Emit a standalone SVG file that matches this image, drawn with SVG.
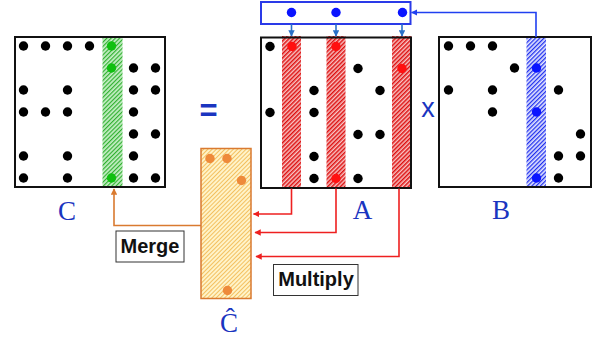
<svg xmlns="http://www.w3.org/2000/svg" width="596" height="339" viewBox="0 0 596 339">
<style>
.mat{fill:none;stroke:#111;stroke-width:2}
circle{r:4.7px}
.d{fill:#000}
.dr{fill:#ff1010}
.dg{fill:#10c010}
.db{fill:#0a14ff}
.do{fill:#ee8a3a}
.lbl{font-family:"Liberation Serif",serif;font-size:27px;fill:#1a35c0;text-anchor:middle}
.op{font-family:"Liberation Sans",Arial,sans-serif;fill:#1a35c0;text-anchor:middle}
.btxt{font-family:"Liberation Sans",Arial,sans-serif;font-weight:bold;font-size:20px;fill:#111;text-anchor:middle}
.tbox{fill:#fff;stroke:#333;stroke-width:1}
.red{fill:none;stroke:#ee2020;stroke-width:1.6}
.blu{fill:none;stroke:#2040f0;stroke-width:1.6}
.sblu{fill:none;stroke:#2a70c8;stroke-width:1.6}
.org{fill:none;stroke:#d97a30;stroke-width:1.6}
</style>
<defs>
<pattern id="hg" patternUnits="userSpaceOnUse" width="3" height="3" patternTransform="rotate(45)">
<rect width="3" height="3" fill="#c6efc6"/><rect width="1.2" height="3" fill="#30b030"/>
</pattern>
<pattern id="hr" patternUnits="userSpaceOnUse" width="3" height="3" patternTransform="rotate(45)">
<rect width="3" height="3" fill="#f8c4c4"/><rect width="1.5" height="3" fill="#dd1010"/>
</pattern>
<pattern id="hb" patternUnits="userSpaceOnUse" width="3" height="3" patternTransform="rotate(45)">
<rect width="3" height="3" fill="#e4e6ff"/><rect width="1.3" height="3" fill="#2030ee"/>
</pattern>
<pattern id="ho" patternUnits="userSpaceOnUse" width="3" height="3" patternTransform="rotate(45)">
<rect width="3" height="3" fill="#fff3c8"/><rect width="1" height="3" fill="#f3c060"/>
</pattern>
<marker id="ar" viewBox="0 0 10 10" refX="9" refY="5" markerWidth="4" markerHeight="4" orient="auto" markerUnits="strokeWidth">
<path d="M0,0 L10,5 L0,10 z" fill="#ee2020"/>
</marker>
<marker id="ab" viewBox="0 0 10 10" refX="9" refY="5" markerWidth="4" markerHeight="4" orient="auto" markerUnits="strokeWidth">
<path d="M0,0 L10,5 L0,10 z" fill="#2040f0"/>
</marker>
<marker id="asb" viewBox="0 0 10 10" refX="9" refY="5" markerWidth="4" markerHeight="4" orient="auto" markerUnits="strokeWidth">
<path d="M0,0 L10,5 L0,10 z" fill="#2a70c8"/>
</marker>
<marker id="ao" viewBox="0 0 10 10" refX="9" refY="5" markerWidth="4" markerHeight="4" orient="auto" markerUnits="strokeWidth">
<path d="M0,0 L10,5 L0,10 z" fill="#d97a30"/>
</marker>
</defs>

<g id="matrix-C">
<rect x="102.5" y="37" width="20" height="150" fill="url(#hg)"/>
<rect class="mat" x="15" y="37" width="150" height="150"/>
<circle class="d" cx="23.5" cy="46" r="4.7"/><circle class="d" cx="45.5" cy="46" r="4.7"/><circle class="d" cx="67.5" cy="46" r="4.7"/><circle class="d" cx="89.5" cy="46" r="4.7"/><circle class="dg" cx="111.5" cy="46" r="4.7"/>
<circle class="dg" cx="111.5" cy="68" r="4.7"/><circle class="d" cx="133.5" cy="68" r="4.7"/><circle class="d" cx="155.5" cy="68" r="4.7"/>
<circle class="d" cx="23.5" cy="90" r="4.7"/><circle class="d" cx="67.5" cy="90" r="4.7"/><circle class="d" cx="133.5" cy="90" r="4.7"/><circle class="d" cx="155.5" cy="90" r="4.7"/>
<circle class="d" cx="23.5" cy="112" r="4.7"/><circle class="d" cx="45.5" cy="112" r="4.7"/><circle class="d" cx="67.5" cy="112" r="4.7"/><circle class="d" cx="133.5" cy="112" r="4.7"/>
<circle class="d" cx="133.5" cy="134" r="4.7"/><circle class="d" cx="155.5" cy="134" r="4.7"/>
<circle class="d" cx="23.5" cy="156" r="4.7"/><circle class="d" cx="67.5" cy="156" r="4.7"/><circle class="d" cx="133.5" cy="156" r="4.7"/>
<circle class="d" cx="23.5" cy="178" r="4.7"/><circle class="d" cx="67.5" cy="178" r="4.7"/><circle class="dg" cx="111.5" cy="178" r="4.7"/><circle class="d" cx="133.5" cy="178" r="4.7"/><circle class="d" cx="155.5" cy="178" r="4.7"/>
<text class="lbl" x="67" y="220">C</text>
</g>

<g id="equals"><text class="op" x="208.5" y="121" font-size="31" font-weight="bold">=</text></g>

<g id="matrix-A">
<rect x="282" y="36" width="19" height="152.5" fill="url(#hr)"/>
<rect x="326.5" y="36" width="19" height="152.5" fill="url(#hr)"/>
<rect x="392" y="36" width="19.5" height="152.5" fill="url(#hr)"/>
<rect class="mat" x="261" y="37.5" width="150" height="150.5"/>
<circle class="d" cx="270" cy="46.5" r="4.7"/><circle class="dr" cx="292" cy="46.5" r="4.7"/><circle class="dr" cx="336" cy="46.5" r="4.7"/>
<circle class="d" cx="358" cy="68.5" r="4.7"/><circle class="dr" cx="402" cy="68.5" r="4.7"/>
<circle class="d" cx="314" cy="90.5" r="4.7"/><circle class="d" cx="380" cy="90.5" r="4.7"/>
<circle class="d" cx="270" cy="112.5" r="4.7"/><circle class="d" cx="314" cy="112.5" r="4.7"/>
<circle class="d" cx="358" cy="134.5" r="4.7"/><circle class="d" cx="380" cy="134.5" r="4.7"/>
<circle class="d" cx="314" cy="156.5" r="4.7"/>
<circle class="d" cx="314" cy="178.5" r="4.7"/><circle class="dr" cx="336" cy="178.5" r="4.7"/><circle class="d" cx="358" cy="178.5" r="4.7"/>
<text class="lbl" x="362.5" y="219">A</text>
</g>

<g id="times"><text class="op" x="428" y="117" font-size="27">x</text></g>

<g id="matrix-B">
<rect x="526.5" y="37" width="19.5" height="150" fill="url(#hb)"/>
<rect class="mat" x="439" y="37" width="152" height="150"/>
<circle class="d" cx="448.5" cy="46" r="4.7"/><circle class="d" cx="470.5" cy="46" r="4.7"/><circle class="d" cx="492.5" cy="46" r="4.7"/>
<circle class="d" cx="514.5" cy="68" r="4.7"/><circle class="db" cx="536.5" cy="68" r="4.7"/>
<circle class="d" cx="448.5" cy="90" r="4.7"/><circle class="d" cx="492.5" cy="90" r="4.7"/><circle class="d" cx="558.5" cy="90" r="4.7"/>
<circle class="d" cx="492.5" cy="112" r="4.7"/><circle class="db" cx="536.5" cy="112" r="4.7"/>
<circle class="d" cx="580.5" cy="134" r="4.7"/>
<circle class="d" cx="558.5" cy="156" r="4.7"/><circle class="d" cx="580.5" cy="156" r="4.7"/>
<circle class="db" cx="536.5" cy="178" r="4.7"/><circle class="d" cx="558.5" cy="178" r="4.7"/>
<text class="lbl" x="501" y="219">B</text>
</g>

<g id="vector-B-column">
<rect x="261" y="2" width="149.5" height="22" fill="#fff" stroke="#2a3ae8" stroke-width="2"/>
<circle class="db" cx="291.5" cy="12.5" r="4.7"/><circle class="db" cx="336" cy="12.5" r="4.7"/><circle class="db" cx="402.5" cy="12.5" r="4.7"/>
</g>

<g id="matrix-Chat">
<rect x="201" y="148.5" width="50" height="150" fill="url(#ho)" stroke="#d97a30" stroke-width="1.5"/>
<circle class="do" cx="210" cy="158.5" r="4.7"/><circle class="do" cx="227" cy="158.5" r="4.7"/><circle class="do" cx="241.5" cy="180.5" r="4.7"/><circle class="do" cx="227.5" cy="290.5" r="4.7"/>
<text class="lbl" x="229" y="332" font-size="26">Ĉ</text>
</g>

<g id="label-merge">
<rect class="tbox" x="116" y="231" width="68" height="31"/>
<text class="btxt" x="150" y="253">Merge</text>
</g>

<g id="label-multiply">
<rect class="tbox" x="273.5" y="264.5" width="84.5" height="31"/>
<text class="btxt" x="316" y="286">Multiply</text>
</g>

<g id="connectors">
<path class="blu" d="M536,37 V12.5 H411.5" marker-end="url(#ab)"/>
<path class="sblu" d="M291.5,24 V36" marker-end="url(#asb)"/>
<path class="sblu" d="M336,24 V36" marker-end="url(#asb)"/>
<path class="sblu" d="M402,24 V36" marker-end="url(#asb)"/>
<path class="red" d="M291.5,188.5 V214 H253.5" marker-end="url(#ar)"/>
<path class="red" d="M336,188.5 V232.5 H255" marker-end="url(#ar)"/>
<path class="red" d="M399,188.5 V256.5 H256" marker-end="url(#ar)"/>
<path class="org" d="M201,225.5 H114 V189" marker-end="url(#ao)"/>
</g>
</svg>
